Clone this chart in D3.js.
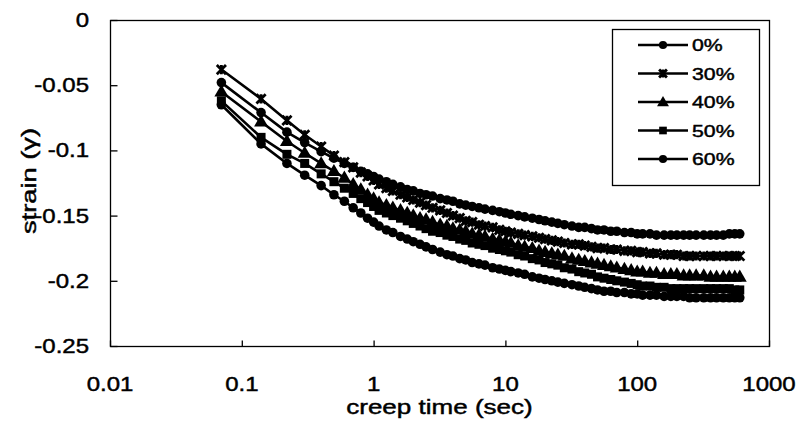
<!DOCTYPE html>
<html>
<head>
<meta charset="utf-8">
<script src="https://cdn.jsdelivr.net/npm/d3@7"></script>
<style>
  html, body { margin: 0; padding: 0; background: #fff; }
  svg { display: block; }
  text { font-family: "Liberation Sans", Arial, sans-serif; fill: #000; stroke: #000; stroke-width: 0.45; }
</style>
</head>
<body>
<svg id="chart" width="799" height="422"></svg>
<script>
// ---------------- data ----------------
const times = [0.07,0.14,0.22,0.3,0.4,0.5,0.6,0.7,0.8,0.9,
  1,1.1,1.25,1.4,1.6,1.8,2,2.25,2.5,2.8,
  3.2,3.6,4,4.5,5,5.6,6.3,7,8,9,
  10,11,12.5,14,16,18,20,22.5,25,28,
  32,36,40,45,50,56,63,70,80,90,
  100,110,125,140,160,180,200,225,250,280,
  320,360,400,450,500,550,600];

const strain0 = [-0.048,-0.071,-0.086,-0.094,-0.101,-0.106,-0.110,-0.113,-0.116,-0.118,
  -0.120,-0.122,-0.124,-0.126,-0.128,-0.130,-0.131,-0.133,-0.134,-0.135,
  -0.137,-0.138,-0.139,-0.141,-0.142,-0.143,-0.144,-0.145,-0.146,-0.147,
  -0.148,-0.149,-0.150,-0.151,-0.152,-0.153,-0.154,-0.155,-0.156,-0.157,
  -0.158,-0.159,-0.159,-0.160,-0.161,-0.161,-0.162,-0.162,-0.163,-0.163,
  -0.164,-0.164,-0.164,-0.165,-0.165,-0.165,-0.165,-0.165,-0.165,-0.165,
  -0.165,-0.165,-0.165,-0.165,-0.164,-0.164,-0.164];

const strain30 = [-0.038,-0.0605,-0.077,-0.088,-0.097,-0.104,-0.109,-0.113,-0.117,-0.120,
  -0.123,-0.126,-0.129,-0.131,-0.134,-0.136,-0.138,-0.140,-0.142,-0.144,
  -0.146,-0.148,-0.150,-0.152,-0.154,-0.155,-0.157,-0.158,-0.159,-0.161,
  -0.162,-0.163,-0.164,-0.165,-0.166,-0.167,-0.168,-0.169,-0.170,-0.171,
  -0.172,-0.172,-0.173,-0.174,-0.175,-0.175,-0.176,-0.176,-0.177,-0.177,
  -0.178,-0.178,-0.179,-0.179,-0.180,-0.180,-0.180,-0.181,-0.181,-0.181,
  -0.181,-0.181,-0.181,-0.181,-0.181,-0.181,-0.181];

const strain40 = [-0.055,-0.078,-0.093,-0.102,-0.110,-0.116,-0.121,-0.126,-0.130,-0.134,
  -0.137,-0.140,-0.142,-0.144,-0.146,-0.148,-0.150,-0.152,-0.153,-0.155,
  -0.157,-0.158,-0.160,-0.161,-0.162,-0.164,-0.165,-0.166,-0.168,-0.169,
  -0.170,-0.171,-0.173,-0.174,-0.175,-0.177,-0.178,-0.179,-0.180,-0.181,
  -0.183,-0.184,-0.185,-0.186,-0.187,-0.188,-0.189,-0.190,-0.191,-0.192,
  -0.193,-0.193,-0.194,-0.194,-0.195,-0.195,-0.195,-0.196,-0.196,-0.196,
  -0.196,-0.197,-0.197,-0.197,-0.197,-0.197,-0.197];

const strain50 = [-0.062,-0.090,-0.103,-0.110,-0.118,-0.124,-0.129,-0.133,-0.137,-0.140,
  -0.143,-0.146,-0.148,-0.150,-0.152,-0.154,-0.156,-0.158,-0.160,-0.162,
  -0.163,-0.165,-0.166,-0.168,-0.169,-0.171,-0.172,-0.173,-0.175,-0.176,
  -0.177,-0.178,-0.180,-0.181,-0.183,-0.184,-0.186,-0.187,-0.188,-0.190,
  -0.191,-0.193,-0.194,-0.195,-0.197,-0.198,-0.199,-0.200,-0.201,-0.202,
  -0.203,-0.204,-0.204,-0.205,-0.205,-0.206,-0.206,-0.206,-0.206,-0.206,
  -0.206,-0.206,-0.206,-0.206,-0.206,-0.207,-0.207];

const strain60 = [-0.065,-0.095,-0.110,-0.119,-0.127,-0.134,-0.139,-0.144,-0.148,-0.152,
  -0.155,-0.158,-0.161,-0.163,-0.166,-0.168,-0.170,-0.172,-0.174,-0.176,
  -0.178,-0.180,-0.181,-0.183,-0.184,-0.186,-0.187,-0.188,-0.190,-0.191,
  -0.192,-0.193,-0.194,-0.195,-0.197,-0.198,-0.199,-0.200,-0.201,-0.202,
  -0.203,-0.204,-0.205,-0.206,-0.207,-0.208,-0.208,-0.209,-0.209,-0.210,
  -0.210,-0.211,-0.211,-0.211,-0.212,-0.212,-0.212,-0.212,-0.213,-0.213,
  -0.213,-0.213,-0.213,-0.213,-0.213,-0.213,-0.213];

const seriesNames = ["0%", "30%", "40%", "50%", "60%"];
const seriesMarkers = ["circle", "star", "triangle", "square", "circle"];
const xTickValues = [0.01, 0.1, 1, 10, 100, 1000];
const xTickLabels = ["0.01", "0.1", "1", "10", "100", "1000"];
const yTickValues = [0, -0.05, -0.1, -0.15, -0.2, -0.25];
const yTickLabels = ["0", "-0.05", "-0.1", "-0.15", "-0.2", "-0.25"];
const xTitle = "creep time (sec)";
const yTitle = "strain (γ)";

// ---------------- layout ----------------
const plot = { left: 110, right: 769, top: 20, bottom: 346 };
const svg = d3.select("#chart");

const x = d3.scaleLog().domain([0.01, 1000]).range([plot.left, plot.right]);
const y = d3.scaleLinear().domain([-0.25, 0]).range([plot.bottom, plot.top]);

const seriesValues = [strain0, strain30, strain40, strain50, strain60];
const series = seriesNames.map((name, i) => ({
  name, marker: seriesMarkers[i],
  points: times.map((t, j) => ({ t, v: seriesValues[i][j] }))
}));

// stretched text helper (the scanned original is wide-set)
function wideText(parent, px, py, str, size, sx, anchor) {
  const g = parent.append("g").attr("transform", `translate(${px},${py}) scale(${sx},1)`);
  return g.append("text").attr("text-anchor", anchor).attr("font-size", size).text(str);
}

// plot border
svg.append("rect")
  .attr("x", plot.left + 0.5).attr("y", plot.top + 0.5)
  .attr("width", plot.right - plot.left).attr("height", plot.bottom - plot.top)
  .attr("fill", "none").attr("stroke", "#000").attr("stroke-width", 1.3);

// axes: inward ticks only, labels drawn separately
const xAxis = d3.axisBottom(x).tickValues(xTickValues).tickFormat("").tickSizeInner(-6).tickSizeOuter(0);
const gx = svg.append("g").attr("transform", `translate(0,${plot.bottom + 0.5})`).call(xAxis);
gx.select(".domain").remove();
gx.selectAll("line").attr("stroke", "#000").attr("stroke-width", 1.3);

const yAxis = d3.axisLeft(y).tickValues(yTickValues).tickFormat("").tickSizeInner(-7).tickSizeOuter(0);
const gy = svg.append("g").attr("transform", `translate(${plot.left + 0.5},0)`).call(yAxis);
gy.select(".domain").remove();
gy.selectAll("line").attr("stroke", "#000").attr("stroke-width", 1.3);

const labels = svg.append("g");
xTickValues.forEach((v, i) => wideText(labels, x(v), 391, xTickLabels[i], 20, 1.2, "middle"));
yTickValues.forEach((v, i) => wideText(labels, 89, y(v) + 7, yTickLabels[i], 20, 1.2, "end"));

// titles
wideText(svg, (plot.left + plot.right) / 2, 414, xTitle, 21, 1.24, "middle");
svg.append("g").attr("transform", `translate(36,${(plot.top + plot.bottom) / 2 - 2}) rotate(-90) scale(1.3,1)`)
  .append("text").attr("text-anchor", "middle").attr("font-size", 21).text(yTitle);

// marker drawing
function drawMarker(g, type, cx, cy, k) {
  k = k || 1;
  if (type === "circle") {
    g.append("circle").attr("cx", cx).attr("cy", cy).attr("r", 4.8 * k).attr("fill", "#000");
  } else if (type === "triangle") {
    g.append("path").attr("transform", `translate(${cx},${cy + 0.8})`)
      .attr("d", d3.symbol(d3.symbolTriangle, 85 * k * k)()).attr("fill", "#000");
  } else if (type === "square") {
    const h = 4.5 * k;
    g.append("rect").attr("x", cx - h).attr("y", cy - h).attr("width", 2 * h).attr("height", 2 * h).attr("fill", "#000");
  } else if (type === "star") {
    const s = 4.6 * k;
    g.append("path").attr("d", `M${cx - s},${cy - s}L${cx + s},${cy + s}M${cx - s},${cy + s}L${cx + s},${cy - s}M${cx},${cy - s}L${cx},${cy + s}`)
      .attr("stroke", "#000").attr("stroke-width", 2.8).attr("fill", "none");
  }
}

// series
const line = d3.line().x(d => x(d.t)).y(d => y(d.v));
const gs = svg.append("g");
series.forEach(s => {
  const g = gs.append("g");
  g.append("path").datum(s.points).attr("d", line)
    .attr("fill", "none").attr("stroke", "#000").attr("stroke-width", 2.6).attr("stroke-linejoin", "round");
  s.points.forEach(p => drawMarker(g, s.marker, x(p.t), y(p.v)));
});

// legend
const legend = { x: 612, y: 29, w: 147, h: 156 };
const lg = svg.append("g");
lg.append("rect").attr("x", legend.x + 0.5).attr("y", legend.y + 0.5)
  .attr("width", legend.w).attr("height", legend.h)
  .attr("fill", "#fff").attr("stroke", "#000").attr("stroke-width", 1.3);
series.forEach((s, i) => {
  const cy = legend.y + 16 + i * 28.5;
  lg.append("line").attr("x1", 638).attr("x2", 688).attr("y1", cy).attr("y2", cy)
    .attr("stroke", "#000").attr("stroke-width", 2.6);
  drawMarker(lg, s.marker, 663, cy, 0.85);
  wideText(lg, 692, cy + 6, s.name, 17, 1.25, "start");
});
</script>
</body>
</html>
